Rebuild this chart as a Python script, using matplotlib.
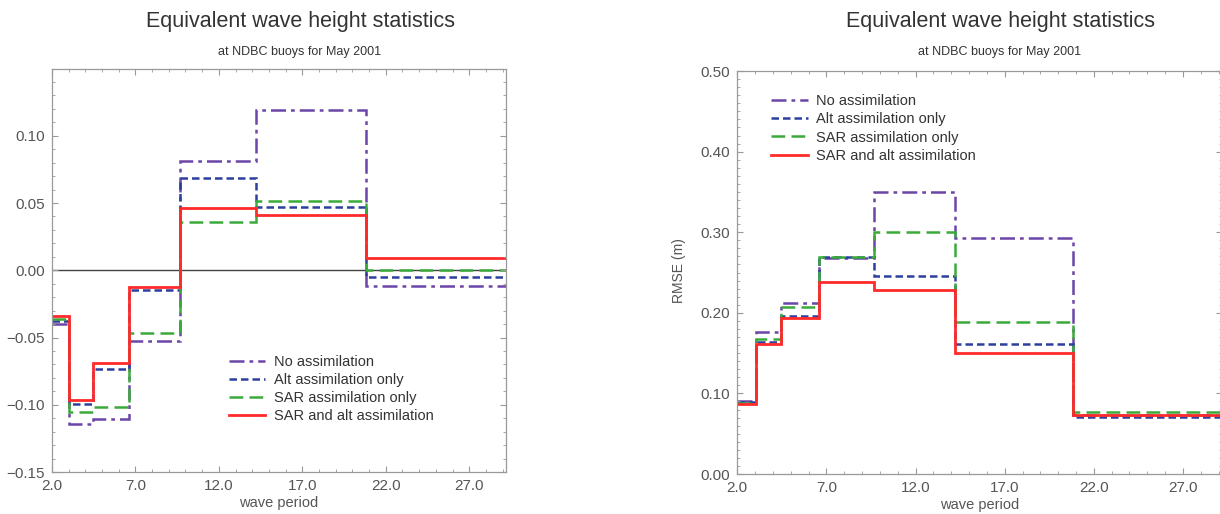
import numpy as np
import matplotlib.pyplot as plt
from matplotlib.ticker import MultipleLocator, FixedLocator, FormatStrFormatter, FuncFormatter

plt.rcParams['font.family'] = ['Liberation Sans', 'DejaVu Sans']

# wave period bin edges (s)
edges = [2.0, 3.03, 4.47, 6.6, 9.68, 14.23, 20.84, 29.2]
xticks = [2.0, 7.0, 12.0, 17.0, 22.0, 27.0]

labels = ['No assimilation', 'Alt assimilation only',
          'SAR assimilation only', 'SAR and alt assimilation']

# mean error (bias) per bin
bias_none = [-0.040, -0.1146, -0.1109, -0.0526, 0.0809, 0.1193, -0.0117]
bias_alt = [-0.0377, -0.0992, -0.0734, -0.0149, 0.0687, 0.0469, -0.0052]
bias_sar = [-0.0363, -0.1054, -0.1014, -0.0469, 0.0357, 0.0518, 0.0005]
bias_both = [-0.0337, -0.0962, -0.0687, -0.0126, 0.0461, 0.0412, 0.0092]
bias_ticks = [-0.15, -0.10, -0.05, 0.0, 0.05, 0.10]

# RMSE per bin
rmse_none = [0.0910, 0.176, 0.2126, 0.2676, 0.3499, 0.2928, 0.0732]
rmse_alt = [0.0897, 0.164, 0.196, 0.2688, 0.2457, 0.1609, 0.0711]
rmse_sar = [0.0880, 0.1675, 0.2068, 0.2696, 0.2998, 0.1890, 0.0765]
rmse_both = [0.0864, 0.161, 0.194, 0.2378, 0.2283, 0.1497, 0.0736]
rmse_ticks = [0.0, 0.1, 0.2, 0.3, 0.4, 0.5]

styles = [
    dict(color='#6b45a8', linestyle=(0, (6, 2, 1.5, 2)), linewidth=1.8),
    dict(color='#2c3f9e', linestyle=(0, (3, 1.6)), linewidth=1.8),
    dict(color='#3aaa3a', linestyle=(0, (5.5, 2.5)), linewidth=1.8),
    dict(color='#ff2a2a', linestyle='-', linewidth=2.0),
]

grey = '#555555'
spine = '#999999'

fig = plt.figure(figsize=(12.2, 5.14), dpi=100)
ax1 = fig.add_axes([0.0426, 0.0817, 0.3721, 0.785])
ax2 = fig.add_axes([0.6043, 0.0778, 0.3975, 0.784])


def yfmt(v, pos):
    s = '%.2f' % v
    if s.startswith('-'):
        s = '\u2212' + s[1:]
    if s == '\u22120.00':
        s = '0.00'
    return s


def style_axes(ax):
    for s in ax.spines.values():
        s.set_color(spine)
        s.set_linewidth(0.9)
    ax.xaxis.set_major_locator(FixedLocator(xticks))
    ax.xaxis.set_minor_locator(MultipleLocator(1))
    ax.xaxis.set_major_formatter(FormatStrFormatter('%.1f'))
    ax.yaxis.set_major_formatter(FuncFormatter(yfmt))
    ax.yaxis.set_minor_locator(MultipleLocator(0.01))
    ax.tick_params(which='both', direction='in', top=True, right=True,
                   color=spine, labelcolor=grey, labelsize=11, pad=5)
    ax.tick_params(which='major', length=4)
    ax.tick_params(which='minor', length=2.5)
    ax.set_xlim(2.0, 29.2)
    ax.set_xlabel('wave period', color=grey, fontsize=10.5, labelpad=2)


for vals, lab, st in zip([bias_none, bias_alt, bias_sar, bias_both], labels, styles):
    ax1.stairs(vals, edges, baseline=None, label=lab, **st)
ax1.axhline(0, color='#444444', linewidth=1.0, zorder=0)
style_axes(ax1)
ax1.set_ylim(-0.15, 0.15)
ax1.yaxis.set_major_locator(FixedLocator(bias_ticks))
ax1.legend(loc='upper left', bbox_to_anchor=(0.39, 0.29), frameon=False,
           fontsize=10.5, handlelength=2.5, handletextpad=0.6,
           labelspacing=0.28, borderpad=0, borderaxespad=0, labelcolor='#333333')

for vals, lab, st in zip([rmse_none, rmse_alt, rmse_sar, rmse_both], labels, styles):
    ax2.stairs(vals, edges, baseline=None, label=lab, **st)
style_axes(ax2)
ax2.set_ylim(0, 0.5)
ax2.yaxis.set_major_locator(FixedLocator(rmse_ticks))
ax2.set_ylabel('RMSE (m)', color=grey, fontsize=10)
ax2.yaxis.set_label_coords(-0.105, 0.506)
ax2.legend(loc='upper left', bbox_to_anchor=(0.07, 0.942), frameon=False,
           fontsize=10.5, handlelength=2.5, handletextpad=0.6,
           labelspacing=0.28, borderpad=0, borderaxespad=0, labelcolor='#333333')

for xc in (300 / 1220, 1000 / 1220):
    fig.text(xc, 1 - 21 / 514, 'Equivalent wave height statistics', ha='center',
             va='center', fontsize=15.5, color='#333333')
    fig.text(xc, 1 - 52 / 514, 'at NDBC buoys for May 2001', ha='center',
             va='center', fontsize=9, color='#333333')

fig.savefig('out.png', dpi=100)
